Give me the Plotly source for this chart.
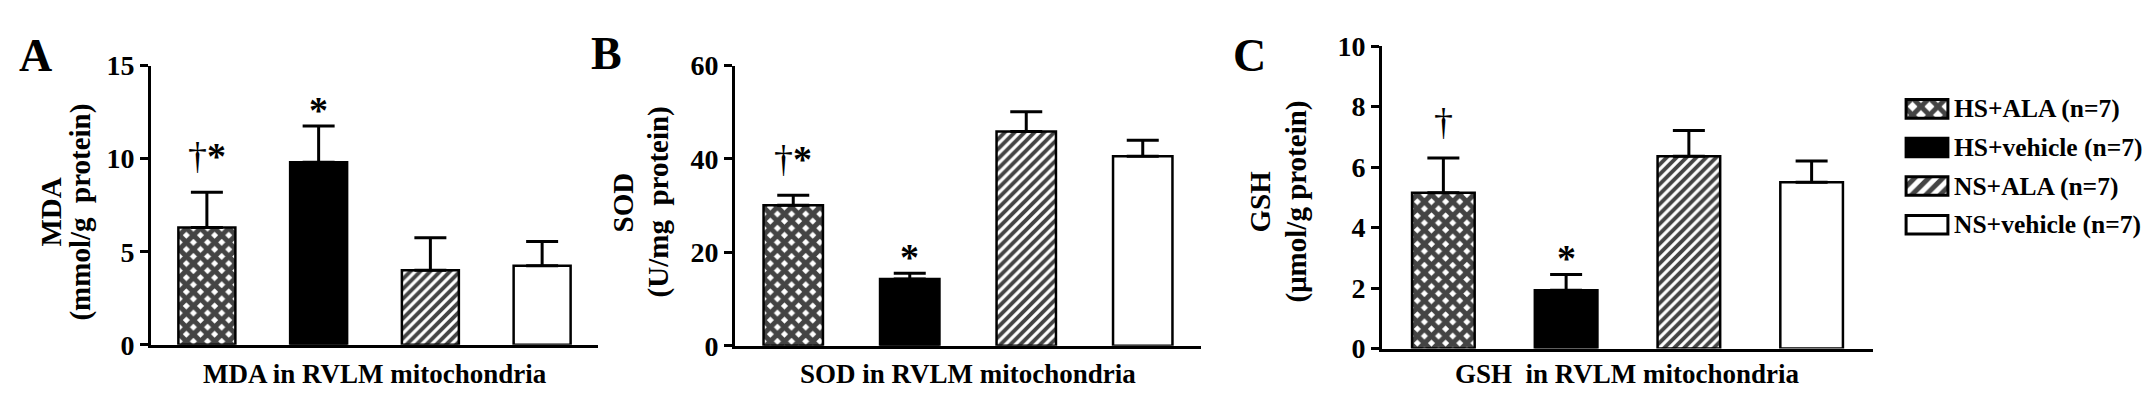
import plotly.graph_objects as go

# ---------------- data ----------------
categories = ["HS+ALA", "HS+vehicle", "NS+ALA", "NS+vehicle"]
legend_labels = ["HS+ALA (n=7)", "HS+vehicle (n=7)", "NS+ALA (n=7)", "NS+vehicle (n=7)"]

mda_mean = [6.3, 9.8, 4.0, 4.25]
mda_sem = [1.9, 1.95, 1.75, 1.3]
sod_mean = [30.1, 14.3, 45.9, 40.6]
sod_sem = [2.1, 1.2, 4.2, 3.4]
gsh_mean = [5.15, 1.93, 6.36, 5.5]
gsh_sem = [1.15, 0.52, 0.85, 0.7]

mda_marks = ["†*", "*", "", ""]
sod_marks = ["†*", "*", "", ""]
gsh_marks = ["†", "*", "", ""]

mda_ticks = [0, 5, 10, 15]
sod_ticks = [0, 20, 40, 60]
gsh_ticks = [0, 2, 4, 6, 8, 10]

# ---------------- style ----------------
W, H = 2150, 412
FONT = "Liberation Serif, Times New Roman, serif"
fill_colors = ["white", "black", "white", "white"]
pattern_shapes = ["x", "", "/", ""]
pattern_sizes = [10, 10, 7, 7]
pattern_solid = [0.75, 0.3, 0.55, 0.3]


def fx(p):
    return p / W


def fy(p):
    return 1 - p / H


panels = [
    dict(mean=mda_mean, sem=mda_sem, marks=mda_marks, ticks=mda_ticks, top=15,
         xd=(143, 590), yd=(46, 348), title="MDA in RVLM mitochondria",
         l1="MDA", l2="(mmol/g\u00a0 protein)", l1x=43, l2x=73, ly=205,
         letter="A", letx=27, lety=35),
    dict(mean=sod_mean, sem=sod_sem, marks=sod_marks, ticks=sod_ticks, top=60,
         xd=(727, 1193), yd=(46, 349), title="SOD in RVLM mitochondria",
         l1="SOD", l2="(U/mg\u00a0 protein)", l1x=615, l2x=650, ly=194,
         letter="B", letx=598, lety=33),
    dict(mean=gsh_mean, sem=gsh_sem, marks=gsh_marks, ticks=gsh_ticks, top=10,
         xd=(1374, 1865), yd=(25, 352), title="GSH\u00a0 in RVLM mitochondria",
         l1="GSH", l2="(μmol/g protein)", l1x=1252, l2x=1288, ly=193,
         letter="C", letx=1241, lety=35),
]

fig = go.Figure()
annotations = []
layout = {}

for i, p in enumerate(panels):
    n = "" if i == 0 else str(i + 1)
    xa, ya = "x" + n, "y" + n
    fig.add_trace(go.Bar(
        x=categories, y=p["mean"], width=0.51,
        marker=dict(
            color=fill_colors,
            line=dict(color="black", width=2.5),
            pattern=dict(shape=pattern_shapes, fgcolor="black", bgcolor=fill_colors,
                         fgopacity=1, size=pattern_sizes, solidity=pattern_solid),
        ),
        error_y=dict(type="data", array=p["sem"], arrayminus=[0] * 4, symmetric=False,
                     color="black", thickness=3, width=16),
        xaxis=xa, yaxis=ya, showlegend=False,
    ))
    layout["xaxis" + n] = dict(
        domain=[fx(p["xd"][0]), fx(p["xd"][1])], range=[-0.5, 3.5], anchor=ya,
        showline=True, linecolor="black", linewidth=3, ticks="", showticklabels=False,
        showgrid=False, zeroline=False, fixedrange=True,
    )
    layout["yaxis" + n] = dict(
        domain=[fy(p["yd"][1]), fy(p["yd"][0])], range=[0, p["top"]], anchor=xa,
        showline=True, linecolor="black", linewidth=3, ticks="outside", ticklen=8,
        tickwidth=3, tickcolor="black", tickvals=p["ticks"],
        tickfont=dict(family=FONT, size=28, color="black", weight="bold"),
        showgrid=False, zeroline=False, fixedrange=True,
    )
    # significance marks
    for j, m in enumerate(p["marks"]):
        if not m:
            continue
        shift = 13 if "†" in m else -7
        annotations.append(dict(
            x=categories[j], y=p["mean"][j] + p["sem"][j], xref=xa, yref=ya,
            text=m.replace("*", "<b>*</b>"), showarrow=False, yanchor="bottom",
            xanchor="center", yshift=shift,
            font=dict(family=FONT, size=38, color="black"),
        ))
    # x title
    annotations.append(dict(
        x=0.5, y=fy(380), xref=xa + " domain", yref="paper", text=p["title"],
        showarrow=False, xanchor="center", yanchor="middle",
        font=dict(family=FONT, size=27, color="black", weight="bold"),
    ))
    # y titles (two lines)
    for key, kx in (("l1", "l1x"), ("l2", "l2x")):
        annotations.append(dict(
            x=fx(p[kx]), y=fy(p["ly"]), xref="paper", yref="paper", text=p[key],
            textangle=-90, showarrow=False, xanchor="center", yanchor="middle",
            font=dict(family=FONT, size=29, color="black", weight="bold"),
        ))
    # panel letter
    annotations.append(dict(
        x=fx(p["letx"]), y=fy(p["lety"]), xref="paper", yref="paper", text=p["letter"],
        showarrow=False, xanchor="center", yanchor="middle",
        font=dict(family=FONT, size=46, color="black", weight="bold"),
    ))

# ---------------- legend as a small subplot of swatches ----------------
fig.add_trace(go.Bar(
    y=categories, x=[1] * 4, orientation="h", width=0.48,
    marker=dict(
        color=fill_colors,
        line=dict(color="black", width=3),
        pattern=dict(shape=pattern_shapes, fgcolor="black", bgcolor=fill_colors,
                     fgopacity=1, size=[12, 12, 10, 10], solidity=[0.65, 0.3, 0.5, 0.3]),
    ),
    xaxis="x4", yaxis="y4", showlegend=False, hoverinfo="skip",
))
row_top, row_bot = 72, 239
layout["xaxis4"] = dict(domain=[fx(1896), fx(1942)], range=[-0.05, 1.05], anchor="y4",
                        visible=False, fixedrange=True)
layout["yaxis4"] = dict(domain=[fy(row_bot), fy(row_top)], range=[3.5, -0.5], anchor="x4",
                        visible=False, fixedrange=True, type="category",
                        categoryarray=categories)
for j, lab in enumerate(legend_labels):
    annotations.append(dict(
        x=fx(1944), y=categories[j], xref="paper", yref="y4", text=lab,
        showarrow=False, xanchor="left", yanchor="middle",
        font=dict(family=FONT, size=25.5, color="black", weight="bold"),
    ))

fig.update_layout(
    width=W, height=H, margin=dict(l=0, r=0, t=0, b=0),
    paper_bgcolor="white", plot_bgcolor="white",
    barmode="overlay", annotations=annotations, **layout,
)

fig.write_html("out.html")
